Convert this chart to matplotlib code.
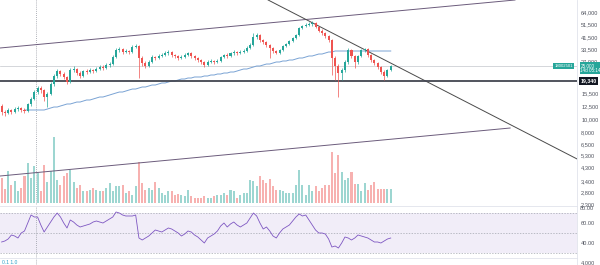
import matplotlib
matplotlib.use('Agg')
import matplotlib.pyplot as plt
from matplotlib.ticker import NullLocator

# ---------------- data ----------------
opens = [12525, 11290, 11100, 11690, 11290, 11890, 12100, 11690, 11490, 12970,
         14140, 15960, 17110, 16530, 14640, 15420, 18340, 21060, 22960, 21800,
         20700, 18980, 23360, 23770, 22180, 21060, 22960, 22570, 23360, 22960,
         23770, 24610, 24190, 25480, 25920, 29260, 33040, 33610, 31910, 32470,
         31910, 34800, 35410, 28760, 26380, 25040, 26840, 29260, 28760, 29780,
         30300, 31360, 31910, 30300, 29780, 28760, 29260, 30300, 31360, 29780,
         28760, 27780, 26840, 25480, 26840, 27300, 26840, 27300, 29260, 30300,
         29780, 31360, 31910, 31360, 31910, 32470, 34200, 36020, 41380, 42830,
         39280, 37940, 36020, 34200, 32470, 31360, 33040, 35410, 36650, 38610,
         40670, 42830, 48350, 50060, 50930, 51820, 52730, 49200, 45910, 44340,
         42100, 39280, 28760, 25040, 22180, 23360, 26840, 33040, 29780, 26840,
         29780, 33040, 33610, 30300, 27780, 26380, 24610, 22570, 21060, 23360]
closes = [11290, 11100, 11690, 11290, 11890, 12100, 11690, 11490, 12970, 14140,
          15960, 17110, 16530, 14640, 15420, 18340, 21060, 22960, 21800, 20700,
          18980, 23360, 23770, 22180, 21060, 22960, 22570, 23360, 22960, 23770,
          24610, 24190, 25480, 25920, 29260, 33040, 33610, 31910, 32470, 31910,
          34800, 35410, 28760, 26380, 25040, 26840, 29260, 28760, 29780, 30300,
          31360, 31910, 30300, 29780, 28760, 29260, 30300, 31360, 29780, 28760,
          27780, 26840, 25480, 26840, 27300, 26840, 27300, 29260, 30300, 29780,
          31360, 31910, 31360, 31910, 32470, 34200, 36020, 41380, 42830, 39280,
          37940, 36020, 34200, 32470, 31360, 33040, 35410, 36650, 38610, 40670,
          42830, 48350, 50060, 50930, 51820, 52730, 49200, 45910, 44340, 42100,
          39280, 28760, 25040, 22180, 23360, 26840, 33040, 29780, 26840, 29780,
          33040, 33610, 30300, 27780, 26380, 24610, 22570, 21060, 23360, 25000]
highs = [12970, 11690, 12100, 11890, 12310, 12530, 12310, 12100, 13190, 14640,
         16530, 17710, 17710, 16810, 15960, 18980, 21800, 23770, 23360, 22570,
         21060, 24190, 25040, 24190, 22960, 23360, 23770, 24190, 23770, 24610,
         25480, 25480, 26380, 26840, 30300, 34200, 34800, 34200, 33610, 33040,
         36020, 36650, 36020, 29780, 27300, 27780, 30300, 29780, 30820, 31360,
         32470, 33040, 32470, 30820, 30300, 30300, 31360, 31910, 31910, 30300,
         29260, 28270, 27300, 27780, 28270, 27780, 28270, 29780, 30820, 31360,
         31910, 33040, 32470, 33040, 33610, 35410, 37290, 44340, 44340, 43580,
         39970, 38610, 36650, 34800, 33040, 33610, 36020, 37290, 39280, 41380,
         43580, 49200, 50930, 52730, 53650, 54590, 53650, 50060, 47520, 45120,
         42830, 39970, 29780, 25920, 24190, 27780, 34200, 33610, 30300, 30300,
         33610, 34200, 34200, 30820, 28270, 26840, 25040, 23360, 23770, 25480]
lows = [10720, 10530, 11000, 10900, 11100, 11490, 11290, 11100, 11290, 12530,
        13900, 15420, 15690, 13660, 12310, 15150, 17710, 20340, 21060, 19990,
        18340, 18660, 22570, 21430, 20340, 20700, 21800, 22180, 22180, 22570,
        23360, 23360, 23770, 24610, 25480, 28760, 31910, 30820, 31360, 30820,
        31360, 34200, 20340, 25040, 24190, 24610, 26380, 27780, 28270, 29260,
        29780, 30300, 29260, 28760, 27780, 28270, 28760, 29780, 28760, 27780,
        26840, 25920, 24610, 25040, 26380, 25920, 26380, 26840, 28760, 28760,
        29260, 30300, 30300, 30820, 31360, 31910, 33610, 35410, 39970, 37940,
        36650, 34800, 28760, 31360, 30820, 30820, 32470, 34800, 36020, 37940,
        39970, 42100, 47520, 49200, 50060, 50060, 48350, 45120, 42830, 40670,
        37940, 21430, 19650, 14640, 19650, 22570, 25920, 28760, 24190, 25920,
        29260, 31910, 29260, 26840, 25480, 23770, 21800, 19650, 20700, 22960]
volumes = [25, 14, 32, 18, 22, 12, 15, 27, 40, 25,
           37, 30, 12, 38, 21, 32, 66, 23, 18, 27,
           30, 33, 21, 15, 18, 12, 12, 13, 15, 13,
           12, 12, 15, 20, 12, 17, 17, 18, 10, 12,
           8, 17, 41, 20, 13, 15, 13, 21, 15, 10,
           8, 12, 12, 8, 9, 8, 7, 13, 7, 5,
           5, 5, 7, 5, 5, 7, 8, 8, 10, 8,
           13, 12, 5, 8, 10, 10, 23, 22, 17, 27,
           23, 20, 24, 17, 13, 13, 12, 10, 10, 10,
           18, 33, 18, 8, 18, 12, 17, 12, 15, 18,
           18, 51, 30, 48, 31, 23, 25, 31, 19, 19,
           12, 20, 13, 18, 21, 14, 14, 14, 14, 14]
rsi_values = [41, 42, 44, 48, 47, 45, 50, 52, 60, 68,
              66, 66, 58, 51, 56, 61, 66, 70, 66, 60,
              55, 63, 61, 58, 56, 57, 58, 59, 61, 62,
              61, 60, 62, 64, 66, 71, 70, 68, 67, 67,
              67, 68, 45, 43, 45, 47, 50, 53, 52, 51,
              53, 55, 54, 52, 50, 47, 49, 52, 51, 48,
              46, 43, 40, 45, 47, 49, 52, 57, 60, 56,
              59, 61, 58, 56, 58, 60, 65, 70, 67, 60,
              54, 56, 52, 47, 45, 50, 54, 56, 58, 62,
              66, 69, 67, 68, 63, 58, 53, 50, 50, 49,
              44, 36, 37, 35, 40, 46, 45, 43, 45, 48,
              47, 46, 45, 43, 41, 41, 40, 42, 44, 45]
ma_start = 7
ma_values = [11690, 11690, 11690, 11690, 11690, 11690, 11690,
             11890, 12100, 12310, 12310, 12530, 12740, 12970, 12970, 13190, 13420,
             13420, 13660, 13900, 13900, 14140, 14390, 14640, 14640, 14890, 15150,
             15420, 15690, 15960, 15960, 16240, 16530, 16810, 16810, 17110, 17410,
             17410, 17710, 18020, 18020, 18340, 18660, 18660, 18980, 19310, 19310,
             19650, 19990, 19990, 20340, 20340, 20700, 20700, 20700, 21060, 21060,
             21430, 21430, 21800, 21800, 22180, 22180, 22570, 22570, 22960, 23370,
             23770, 23770, 24190, 24610, 25040, 25040, 25480, 25920, 25920, 26380,
             26840, 26840, 27310, 27310, 27780, 27780, 28270, 28760, 28760, 29260,
             29780, 29780, 30300, 30820, 30820, 31360, 31910, 31910, 32470,
             32470, 32470, 32470, 32470, 32470, 32470, 32470, 32470, 32470,
             32470, 32470, 32470, 32470, 32470, 32470, 32470, 32470]

upper_channel_x = [-0.5, 157.0]
upper_channel_y = [34200, 78530]
lower_channel_x = [-0.5, 155.5]
lower_channel_y = [3727, 8557]
downtrend_x = [81.5, 176.0]
downtrend_y = [78530, 5003]
support_level = 19340
last_price = 25000
crosshair_index = 10.5

price_ticks = [64000, 51500, 41500, 33500, 27000, 15500, 12500, 10000,
               8000, 6500, 5300, 4300, 3400, 2800, 2300]
price_tick_labels = [f"{v:,}" for v in price_ticks]
rsi_ticks = [60, 40]
rsi_tick_labels = ["60.00", "40.00"]

# ---------------- figure ----------------
W, H = 600, 265
fig = plt.figure(figsize=(6, 2.65), dpi=100)
plt.rcParams['font.family'] = ['Liberation Sans', 'DejaVu Sans']
plot_w = 577 / W

UP = '#26a69a'
DOWN = '#ef5350'
AXIS_TXT = '#50535e'
FS = 4.1

def frac(top, bottom):
    return [0, 1 - bottom / H, plot_w, (bottom - top) / H]

n = len(closes)
xs = list(range(n))
xlim = (-0.49, 175.96)

# volume axis (behind)
ax_v = fig.add_axes(frac(0, 205))
ax_v.set_xlim(*xlim)
ax_v.set_ylim(-2, 203)
vcolors = [UP if c >= o else DOWN for o, c in zip(opens, closes)]
ax_v.bar(xs, volumes, width=0.62, color=vcolors, alpha=0.45, linewidth=0)
ax_v.axis('off')

# main price axis
ax = fig.add_axes(frac(0, 205))
ax.patch.set_visible(False)
ax.set_yscale('log')
ax.set_xlim(*xlim)
ax.set_ylim(2256, 78530)

for i in range(n):
    col = UP if closes[i] >= opens[i] else DOWN
    ax.vlines(i, lows[i], highs[i], color=col, linewidth=0.5, zorder=3)
    lo = min(opens[i], closes[i])
    hi = max(opens[i], closes[i])
    ax.bar(i, hi - lo, bottom=lo, width=0.62, color=col, linewidth=0, zorder=4)

ax.plot(list(range(ma_start, ma_start + len(ma_values))), ma_values,
        color='#7aa3d4', linewidth=0.7, zorder=2)
ax.plot(upper_channel_x, upper_channel_y, color='#6b5b7b', linewidth=0.7, zorder=2)
ax.plot(lower_channel_x, lower_channel_y, color='#6b5b7b', linewidth=0.7, zorder=2)
ax.plot(downtrend_x, downtrend_y, color='#4a4a4a', linewidth=0.7, zorder=2)
ax.axhline(support_level, color='#434651', linewidth=1.3, zorder=2)
ax.axhline(last_price, color='#c4c6cc', linewidth=0.5, zorder=1)
ax.axvline(crosshair_index, color='#9598a1', linewidth=0.6,
           linestyle=(0, (1, 1.5)), zorder=1)

ax.yaxis.tick_right()
ax.set_yticks(price_ticks)
ax.set_yticklabels(price_tick_labels)
ax.yaxis.set_minor_locator(NullLocator())
ax.tick_params(axis='y', length=0, pad=3, labelsize=FS, labelcolor=AXIS_TXT)
ax.set_xticks([])
for s in ['top', 'left', 'bottom']:
    ax.spines[s].set_visible(False)
ax.spines['right'].set_color('#e0e3eb')
ax.spines['right'].set_linewidth(0.6)

tr = ax.get_yaxis_transform()
ax.annotate("25,000\n14d 05:14", xy=(1.0, last_price), xycoords=tr,
            xytext=(2.5, -1.5), textcoords='offset points', fontsize=3.3,
            color='white', va='center', ha='left', linespacing=0.95,
            bbox=dict(boxstyle='square,pad=0.2', fc=UP, ec='none'), zorder=10,
            annotation_clip=False)
ax.annotate("19,340", xy=(1.0, support_level), xycoords=tr,
            xytext=(2.5, 0), textcoords='offset points', fontsize=3.8,
            color='white', va='center', ha='left', fontweight='bold',
            bbox=dict(boxstyle='square,pad=0.25', fc='#131722', ec='none'),
            zorder=10, annotation_clip=False)
ax.annotate("18002501", xy=(1.0, last_price), xycoords=tr,
            xytext=(-3, 0), textcoords='offset points', fontsize=3.1,
            color='white', va='center', ha='right',
            bbox=dict(boxstyle='square,pad=0.2', fc=UP, ec='none'), zorder=10,
            annotation_clip=False)

# RSI pane
ax_r = fig.add_axes(frac(206, 258))
ax_r.set_xlim(*xlim)
ax_r.set_ylim(25, 77)
ax_r.axhspan(30, 70, color='#7e57c2', alpha=0.1, linewidth=0)
for lvl in (70, 50, 30):
    ax_r.axhline(lvl, color='#a3a6af', linewidth=0.5, linestyle=(0, (2, 2)))
ax_r.plot(xs, rsi_values, color='#7e57c2', linewidth=0.6)
ax_r.axvline(crosshair_index, color='#9598a1', linewidth=0.6,
             linestyle=(0, (1, 1.5)))
ax_r.yaxis.tick_right()
ax_r.set_yticks(rsi_ticks)
ax_r.set_yticklabels(rsi_tick_labels)
ax_r.tick_params(axis='y', length=0, pad=3, labelsize=FS, labelcolor=AXIS_TXT)
ax_r.set_xticks([])
for s in ['left', 'bottom']:
    ax_r.spines[s].set_visible(False)
ax_r.spines['top'].set_color('#e0e3eb')
ax_r.spines['top'].set_linewidth(0.6)
ax_r.spines['right'].set_color('#e0e3eb')
ax_r.spines['right'].set_linewidth(0.6)
fig.text(plot_w + 3 / W, 1 - 208 / H, "80.00", fontsize=FS, color=AXIS_TXT,
         va='center', ha='left')

# bottom pane (cut off)
ax_b = fig.add_axes(frac(258, 265))
ax_b.set_xlim(*xlim)
ax_b.set_ylim(0, 1)
ax_b.axvline(crosshair_index, color='#9598a1', linewidth=0.6,
             linestyle=(0, (1, 1.5)))
ax_b.yaxis.tick_right()
ax_b.set_yticks([0.45])
ax_b.set_yticklabels(["4,000"])
ax_b.tick_params(axis='y', length=0, pad=3, labelsize=FS, labelcolor=AXIS_TXT)
ax_b.set_xticks([])
for s in ['left', 'bottom']:
    ax_b.spines[s].set_visible(False)
ax_b.spines['top'].set_color('#e0e3eb')
ax_b.spines['top'].set_linewidth(0.6)
ax_b.spines['right'].set_color('#e0e3eb')
ax_b.spines['right'].set_linewidth(0.6)
ax_b.text(0.003, 0.3, "0.1 1.0", transform=ax_b.transAxes, fontsize=3.6,
          color='#2aa1c9', va='center', ha='left')

fig.savefig('out.png', dpi=100)
